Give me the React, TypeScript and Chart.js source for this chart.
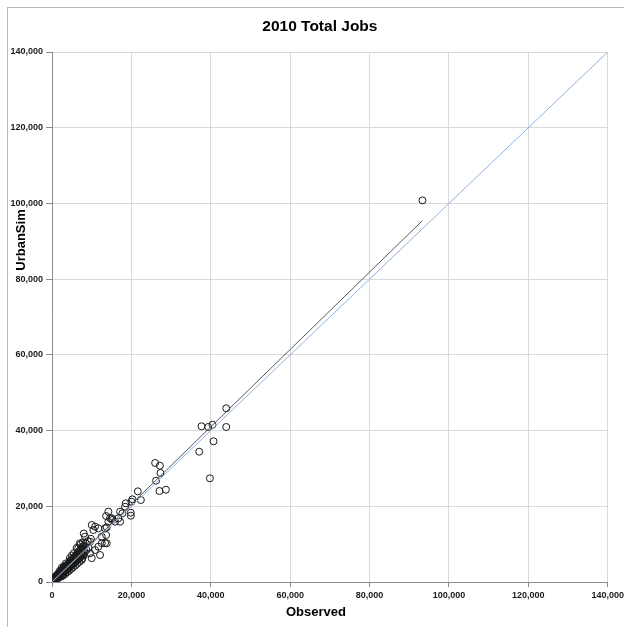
import { useEffect, useRef } from "react";
import { Chart, registerables } from "chart.js";

Chart.register(...registerables);

const CHART_TITLE = "2010 Total Jobs";
const X_TITLE = "Observed";
const Y_TITLE = "UrbanSim";

const AXIS_MIN = 0;
const AXIS_MAX = 140000;
const TICK_STEP = 20000;

// [observed, urbansim] job counts per zone, grouped by size
const smallZones: [number, number][] = [
  [50, 80], [120, 60], [180, 250], [240, 150], [300, 380], [350, 260], [420, 500], [460, 330],
  [520, 610], [580, 450], [640, 720], [690, 540], [750, 880], [800, 650], [860, 990], [900, 760],
  [950, 1120], [1000, 820], [1050, 1240], [1100, 950], [1150, 1300], [1200, 1050], [1250, 1420],
  [1300, 1120], [1350, 1550], [1400, 1230], [1450, 1650], [1500, 1310], [1550, 1780], [1600, 1400],
  [1650, 1900], [1700, 1480], [1750, 2000], [1800, 1560], [1850, 2150], [1900, 1650], [1950, 2250],
  [2000, 1750], [600, 300], [900, 500], [1200, 800], [1500, 1000], [1800, 1200], [400, 900],
  [700, 1300], [1000, 1600], [1300, 1900], [1600, 2300],
  [2050, 2400], [2100, 1850], [2150, 2600], [2200, 1950], [2250, 2700], [2300, 2050], [2350, 2850],
  [2400, 2150], [2450, 2950], [2500, 2250], [2550, 3100], [2600, 2350], [2650, 3200], [2700, 2450],
  [2750, 3350], [2800, 2550], [2850, 3450], [2900, 2600], [2950, 3550], [3000, 2700], [3100, 3700],
  [3150, 2800], [3200, 3850], [3300, 2950], [3400, 4000], [3450, 3100], [3500, 4150], [3600, 3250],
  [3700, 4350], [3750, 3350], [3800, 4500], [3900, 3500], [4000, 4650], [2200, 1400], [2500, 3800],
  [2800, 1800], [3000, 4200], [3300, 2100], [3500, 4900], [3800, 2600], [2000, 3000], [2600, 1600],
  [2400, 2600], [2900, 3100], [3400, 3600], [3900, 4100], [1700, 1800], [1200, 1300],
];

const midZones: [number, number][] = [
  [4050, 3650], [4150, 4900], [4250, 3800], [4300, 5000], [4400, 4000], [4500, 5200], [4600, 4150],
  [4700, 5500], [4750, 4300], [4850, 5700], [4900, 4450], [5000, 5900], [5100, 4600], [5200, 6100],
  [5300, 4800], [5400, 6300], [5500, 5000], [5600, 6500], [5700, 5200], [5800, 6700], [5900, 5400],
  [6000, 6900], [4200, 2900], [4500, 6300], [4800, 3400], [5000, 7000], [5300, 3900], [5500, 7600],
  [5800, 4300], [4600, 5600], [5200, 5500], [5700, 6000], [4400, 4600], [4900, 5100], [5400, 5600],
  [5900, 6100], [6400, 6600], [6900, 7100], [7400, 7600],
  [6100, 5600], [6200, 7300], [6300, 5700], [6400, 7600], [6500, 6000], [6600, 7800], [6700, 6200],
  [6800, 8000], [6900, 6400], [7000, 8300], [7100, 6600], [7200, 8600], [7300, 6800], [7400, 8800],
  [7500, 7000], [7600, 9100], [7700, 7200], [7800, 9400], [7900, 7400], [8000, 9600], [6300, 4800],
  [6600, 8900], [6900, 5300], [7200, 9900], [7500, 5800], [7800, 10500], [6200, 9000], [7000, 10200],
  [7600, 6200], [8000, 7000], [8000, 12800],
  [8200, 8000], [8320, 11970], [8500, 10200], [8700, 8400], [9000, 10800], [9200, 9000],
  [9590, 10650], [9590, 7580], [9800, 11400], [10010, 15060], [10420, 13740], [10850, 8450],
  [10850, 14610], [11680, 9330], [11680, 14180], [12110, 7130], [12530, 11970], [12530, 10220],
  [13370, 14180], [13620, 12410], [13800, 10220], [13800, 14450], [10000, 6300], [13370, 10300],
];

const largeZones: [number, number][] = [
  [14200, 15930], [15210, 16380], [14630, 16830], [14200, 18570], [15890, 15930], [17150, 15930],
  [16720, 16830], [17730, 18150], [18410, 19890], [18590, 20790], [19850, 17510], [19850, 18310],
  [20010, 21210], [20260, 21840], [22380, 21660], [21620, 23950], [13620, 17430], [15060, 16830],
  [17150, 18570],
  [25980, 31430], [27170, 30720], [27320, 28790], [26230, 26760], [27070, 24040], [28680, 24380],
  [37080, 34420], [37660, 41130], [39350, 40940], [40440, 41550], [40690, 37170], [39780, 27390],
  [43890, 45880], [43890, 40940],
  [93330, 100800],
];

// fitted trend between the smallest and largest observed zones
const trendObserved = [200, 93300];
const trendUrbanSim = [330, 95440];

// one-to-one reference line
const parityObserved = [0, 140000];
const parityUrbanSim = [0, 140000];

const FONT_FAMILY = "'Liberation Sans', Arial, sans-serif";
const TICK_COLOR = "#1a1a1a";
const GRID_COLOR = "#d9d9d9";
const AXIS_COLOR = "#8c8c8c";

const titlesPlugin = {
  id: "jobTitles",
  afterDraw(chart: Chart) {
    const { ctx, chartArea } = chart;
    const midX = chartArea.left + (chartArea.right - chartArea.left) / 2;
    ctx.save();
    ctx.fillStyle = "#000";
    ctx.textAlign = "center";
    ctx.textBaseline = "middle";
    ctx.font = `bold 15.5px ${FONT_FAMILY}`;
    ctx.fillText(CHART_TITLE, midX - 10, 27);
    ctx.font = `bold 13px ${FONT_FAMILY}`;
    ctx.fillText(X_TITLE, midX - 14, 612);
    ctx.translate(21, 240);
    ctx.rotate(-Math.PI / 2);
    ctx.fillText(Y_TITLE, 0, 0);
    ctx.restore();
  },
};

const toPoints = (xs: number[], ys: number[]) => xs.map((x, i) => ({ x, y: ys[i] }));

export default function App() {
  const canvasRef = useRef<HTMLCanvasElement>(null);

  useEffect(() => {
    if (!canvasRef.current) return;
    const zones = [...smallZones, ...midZones, ...largeZones].map(([x, y]) => ({ x, y }));
    const tickFont = { family: FONT_FAMILY, size: 9, weight: "bold" as const };
    const chart = new Chart(canvasRef.current, {
      type: "scatter",
      data: {
        datasets: [
          {
            label: "1:1",
            data: toPoints(parityObserved, parityUrbanSim),
            showLine: true,
            borderColor: "#8db3e2",
            borderWidth: 1,
            pointRadius: 0,
            order: 0,
          },
          {
            label: "Trend",
            data: toPoints(trendObserved, trendUrbanSim),
            showLine: true,
            borderColor: "#5a5a5a",
            borderWidth: 1,
            pointRadius: 0,
            order: 1,
          },
          {
            label: "Zones",
            data: zones,
            pointStyle: "circle",
            pointRadius: 3.5,
            pointBorderWidth: 1,
            pointBorderColor: "#1a1a1a",
            pointBackgroundColor: "rgba(0,0,0,0)",
            order: 2,
          },
        ],
      },
      options: {
        responsive: false,
        animation: false,
        devicePixelRatio: 1,
        events: [],
        layout: { padding: { left: 0, right: 14, top: 52, bottom: 0 }, autoPadding: false },
        plugins: {
          legend: { display: false },
          tooltip: { enabled: false },
          title: { display: false },
        },
        scales: {
          x: {
            type: "linear",
            min: AXIS_MIN,
            max: AXIS_MAX,
            ticks: {
              stepSize: TICK_STEP,
              font: tickFont,
              color: TICK_COLOR,
              padding: 3,
              maxRotation: 0,
              autoSkip: false,
              callback: (v) => Number(v).toLocaleString("en-US"),
            },
            grid: { color: GRID_COLOR, tickColor: AXIS_COLOR, tickLength: 5 },
            border: { color: AXIS_COLOR },
            afterFit: (s) => {
              s.height = 45;
            },
          },
          y: {
            type: "linear",
            min: AXIS_MIN,
            max: AXIS_MAX,
            ticks: {
              stepSize: TICK_STEP,
              font: tickFont,
              color: TICK_COLOR,
              padding: 3,
              autoSkip: false,
              callback: (v) => Number(v).toLocaleString("en-US"),
            },
            grid: { color: GRID_COLOR, tickColor: AXIS_COLOR, tickLength: 6 },
            border: { color: AXIS_COLOR },
            afterFit: (s) => {
              s.width = 52;
            },
          },
        },
      },
      plugins: [titlesPlugin],
    });
    return () => chart.destroy();
  }, []);

  return (
    <div
      style={{
        position: "fixed",
        left: 0,
        top: 0,
        width: 624,
        height: 627,
        overflow: "hidden",
        background: "#fff",
      }}
    >
      <canvas ref={canvasRef} width={627} height={627} style={{ position: "absolute", left: 0, top: 0 }} />
      <div
        style={{
          position: "absolute",
          left: 7,
          top: 7,
          width: 700,
          height: 700,
          border: "1px solid #b8b8b8",
          pointerEvents: "none",
        }}
      />
    </div>
  );
}
